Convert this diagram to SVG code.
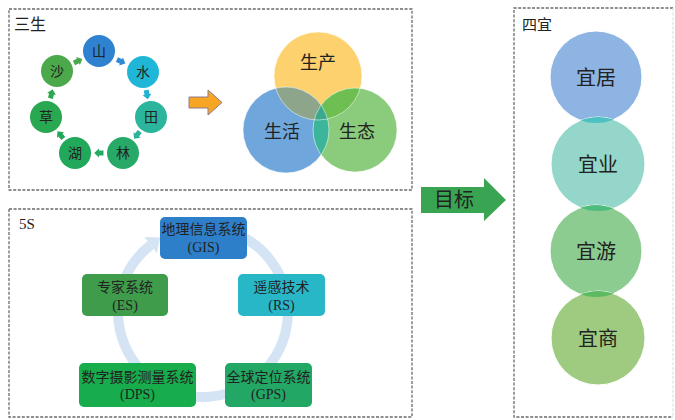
<svg xmlns="http://www.w3.org/2000/svg" width="675" height="420" viewBox="0 0 675 420">
<style>
.frame{fill:none;stroke:#6a6a6a;stroke-width:1.3;stroke-dasharray:3 1.6}
.t{font-family:"Liberation Serif","Noto Sans CJK SC",serif;fill:#222;text-anchor:middle;dominant-baseline:central}
.title{font-family:"Liberation Serif","Noto Sans CJK SC",serif;fill:#222;font-size:15px}
.sm{font-size:14px}
.vn{font-size:18px}
.yi{font-size:20px}
.bx{font-size:14px}
</style>
<defs>
<path id="sa" d="M-4.5,-2.5 L0,-2.5 L0,-4.5 L4.8,0 L0,4.5 L0,2.5 L-4.5,2.5 Z"/>
<clipPath id="cY"><circle cx="318" cy="76" r="44"/></clipPath>
<clipPath id="cB"><circle cx="286" cy="130" r="43"/></clipPath>
<clipPath id="c1"><circle cx="596" cy="77" r="46"/></clipPath>
<clipPath id="c2"><circle cx="598" cy="164" r="47"/></clipPath>
<clipPath id="c3"><circle cx="596" cy="251" r="46"/></clipPath>
</defs>

<g id="frames">
<rect class="frame" x="9" y="9" width="403" height="181"/>
<rect class="frame" x="9" y="209" width="403" height="208"/>
<path class="frame" d="M673,8 L514,8 L514,417 L673,417"/>
<path class="frame" d="M673,8 L673,417" style="stroke:#e4e4e4"/>
</g>
<g id="titles">
<text class="title" x="14" y="30" style="font-size:16px">三生</text>
<text class="title" x="19" y="229" style="font-size:15px">5S</text>
<text class="title" x="522" y="30" style="font-size:15px">四宜</text>
</g>

<g id="connectors">
<use href="#sa" fill="#2f8ad4" transform="translate(121,61.5) rotate(25.5)"/>
<use href="#sa" fill="#22b2d2" transform="translate(147,94.5) rotate(80)"/>
<use href="#sa" fill="#2cb39a" transform="translate(137,135) rotate(128)"/>
<use href="#sa" fill="#25aa64" transform="translate(99,153) rotate(180)"/>
<use href="#sa" fill="#22a856" transform="translate(60.5,135) rotate(231)"/>
<use href="#sa" fill="#2ea850" transform="translate(51.5,94) rotate(-76.5)"/>
<use href="#sa" fill="#4aa84c" transform="translate(78,61) rotate(-25.5)"/>
<path d="M189,97 L208,97 L208,90 L222,102.5 L208,115 L208,108 L189,108 Z" fill="#f6a623" stroke="#8a7a8e" stroke-width="1"/>
<path d="M421,187 L484,187 L484,178 L506,200 L484,221 L484,213 L421,213 Z" fill="#39a553"/>
<path d="M245.5,238.4 A85,85 0 1 1 150.7,245" fill="none" stroke="#d4e4f4" stroke-width="10"/>
<polygon points="144.5,237.1 160.2,237.6 156.9,252.9" fill="#d4e4f4"/>
</g>
<text class="t" x="454" y="200" style="font-size:20px">目标</text>

<g id="sansheng-nodes">
<g id="n-shan"><circle cx="99" cy="51" r="16" fill="#2f82cf"/><text class="t sm" x="99" y="51">山</text></g>
<g id="n-shui"><circle cx="143" cy="72" r="16" fill="#1fb6d8"/><text class="t sm" x="143" y="72">水</text></g>
<g id="n-tian"><circle cx="151" cy="117" r="16" fill="#2bb59c"/><text class="t sm" x="151" y="117">田</text></g>
<g id="n-lin"><circle cx="123" cy="153" r="16" fill="#27aa68"/><text class="t sm" x="123" y="153">林</text></g>
<g id="n-hu"><circle cx="75" cy="153" r="16" fill="#21a85a"/><text class="t sm" x="75" y="153">湖</text></g>
<g id="n-cao"><circle cx="46" cy="117" r="16" fill="#2aa851"/><text class="t sm" x="46" y="117">草</text></g>
<g id="n-sha"><circle cx="57" cy="71" r="16" fill="#4ba84b"/><text class="t sm" x="57" y="71">沙</text></g>
</g>

<g id="venn">
<g id="n-shengchan"><circle cx="318" cy="76" r="44" fill="#fdd26e"/></g>
<g id="n-shenghuo"><circle cx="286" cy="130" r="43" fill="#6fa6dc"/></g>
<g id="n-shengtai"><circle cx="355" cy="130" r="42" fill="#8acb7c"/></g>
<circle cx="286" cy="130" r="43" fill="#8da58a" clip-path="url(#cY)"/>
<circle cx="355" cy="130" r="42" fill="#6cbf50" clip-path="url(#cY)"/>
<circle cx="355" cy="130" r="42" fill="#3db59a" clip-path="url(#cB)"/>
<g clip-path="url(#cY)"><circle cx="355" cy="130" r="42" fill="#3aa98e" clip-path="url(#cB)"/></g>
<g fill="none" stroke="#ffffff" stroke-opacity="0.5" stroke-width="1">
<circle cx="318" cy="76" r="44"/><circle cx="286" cy="130" r="43"/><circle cx="355" cy="130" r="42"/>
</g>
<text class="t vn" x="318" y="63">生产</text>
<text class="t vn" x="282" y="132">生活</text>
<text class="t vn" x="357" y="132">生态</text>
</g>

<g id="siyi">
<g id="n-yiju"><circle cx="596" cy="77" r="46" fill="#8db4e2" stroke="#fff" stroke-width="1"/><text class="t yi" x="596" y="78">宜居</text></g>
<g id="n-yiye"><circle cx="598" cy="164" r="47" fill="#94d6c9" stroke="#fff" stroke-width="1"/>
<circle cx="598" cy="164" r="47" fill="#4ec1c3" clip-path="url(#c1)"/><text class="t yi" x="598" y="165">宜业</text></g>
<g id="n-yiyou"><circle cx="596" cy="251" r="46" fill="#8ccc91" stroke="#fff" stroke-width="1"/>
<circle cx="596" cy="251" r="46" fill="#4dbc7c" clip-path="url(#c2)"/><text class="t yi" x="596" y="252">宜游</text></g>
<g id="n-yishang"><circle cx="598" cy="338" r="47" fill="#9ecb80" stroke="#fff" stroke-width="1"/>
<circle cx="598" cy="338" r="47" fill="#5cbb62" clip-path="url(#c3)"/><text class="t yi" x="598" y="339">宜商</text></g>
</g>

<g id="fives">
<g id="n-gis"><rect x="160" y="217" width="87" height="42" rx="5" fill="#2e7fca"/><text class="t bx" x="203.5" y="229">地理信息系统</text><text class="t bx" x="203.5" y="247">(GIS)</text></g>
<g id="n-rs"><rect x="238" y="274" width="87" height="42" rx="5" fill="#27b7c7"/><text class="t bx" x="281.5" y="287">遥感技术</text><text class="t bx" x="281.5" y="305">(RS)</text></g>
<g id="n-es"><rect x="82" y="274" width="86" height="42" rx="5" fill="#3e9c4b"/><text class="t bx" x="125" y="287">专家系统</text><text class="t bx" x="125" y="305">(ES)</text></g>
<g id="n-dps"><rect x="79" y="363" width="117" height="44" rx="5" fill="#17ad4c"/><text class="t bx" x="137.5" y="377">数字摄影测量系统</text><text class="t bx" x="137.5" y="394">(DPS)</text></g>
<g id="n-gps"><rect x="225" y="363" width="87" height="44" rx="5" fill="#22a765"/><text class="t bx" x="268.5" y="377">全球定位系统</text><text class="t bx" x="268.5" y="394">(GPS)</text></g>
</g>
</svg>
